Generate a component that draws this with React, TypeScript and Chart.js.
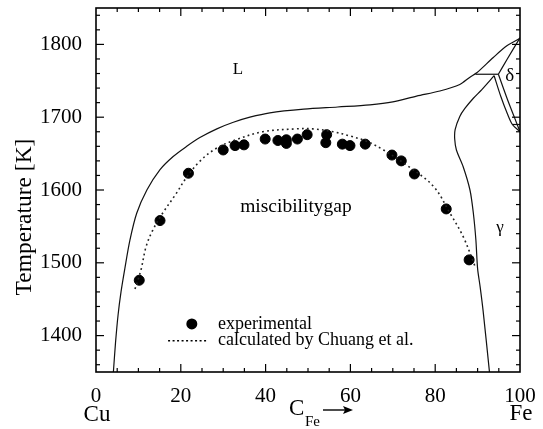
import React, { useEffect, useRef } from "react";
import { Chart, registerables } from "chart.js";

Chart.register(...registerables);

const FONT = "'Liberation Serif', 'Times New Roman', Times, serif";

// experimental points (C_Fe, T[K])
const expX = [10.2, 15.1, 21.8, 30.0, 32.8, 34.9, 39.9, 42.9, 44.9, 44.9, 47.5, 49.8, 54.4, 54.2, 58.1, 59.9, 63.5, 69.8, 72.0, 75.1, 82.6, 88.0];
const expT = [1476, 1558, 1623, 1655, 1661, 1662, 1670, 1668, 1669, 1664, 1670, 1676, 1676, 1665, 1663, 1661, 1663, 1648, 1640, 1622, 1574, 1504];

// calculated by Chuang et al. (dotted)
const calcX = [9.2, 10.6, 11.8, 13.4, 15.7, 18.9, 21.2, 24.4, 28.3, 33.0, 39.3, 47.2, 51.1, 56.0, 60.0, 63.8, 67.8, 73.3, 79.6, 83.5, 86.6, 89.4];
const calcT = [1464, 1490, 1522, 1545, 1568, 1595, 1616, 1639, 1657, 1669, 1680, 1684, 1684, 1680, 1674, 1667, 1655, 1634, 1605, 1568, 1536, 1495];

// liquidus
const liqX = [4.1, 4.6, 5.2, 5.9, 6.8, 8.0, 9.6, 12.0, 15.1, 18.2, 21.4, 24.5, 28.5, 32.4, 36.3, 41.0, 49.0, 57.0, 64.6, 70.0, 75.6, 81.1, 85.8, 88.2, 89.8, 93.7, 96.9, 99.6, 100];
const liqT = [1350, 1390, 1428, 1460, 1492, 1531, 1568, 1600, 1628, 1646, 1660, 1672, 1684, 1693, 1700, 1706, 1711, 1714, 1717, 1721, 1729, 1736, 1745, 1755, 1761, 1782, 1798, 1807, 1809];

// gamma boundary
const gamX = [93.9, 91.0, 89.0, 87.0, 85.8, 84.7, 84.6, 85.0, 86.6, 88.2, 89.0, 89.6, 90.0, 90.6, 91.3, 92.8];
const gamT = [1757, 1738, 1726, 1712, 1701, 1683, 1670, 1655, 1632, 1600, 1568, 1531, 1492, 1467, 1434, 1350];

// delta solidus
const delX = [94.9, 97.0, 100];
const delT = [1759, 1780, 1809];

// peritectic horizontal
const periX = [89.5, 94.9];
const periT = [1759, 1759];

// gamma/delta lines
const gd1X = [93.9, 95.5, 97.0, 98.2, 100];
const gd1T = [1757, 1728, 1705, 1690, 1680];
const gd2X = [94.9, 97.0, 98.8, 100];
const gd2T = [1759, 1725, 1698, 1680];
const gd3X = [98.2, 100];
const gd3T = [1690, 1690];

const xTickLabels = [0, 20, 40, 60, 80, 100];
const yTickLabels = [1400, 1500, 1600, 1700, 1800];
const xMinorStep = 5;
const yMinorStep = 20;

const pts = (xs: number[], ys: number[]) => xs.map((x, i) => ({ x, y: ys[i] }));

const solid = (xs: number[], ys: number[], tension = 0.3) => ({
  type: "line" as const,
  data: pts(xs, ys),
  borderColor: "#111",
  borderWidth: 1.2,
  pointRadius: 0,
  tension,
  fill: false,
});

const stepTicks = (min: number, max: number, step: number) => {
  const out: { value: number }[] = [];
  for (let v = Math.ceil(min / step) * step; v <= max; v += step) out.push({ value: v });
  return out;
};

const zeroPad = (s: any) => {
  s.paddingLeft = 0;
  s.paddingRight = 0;
  s.paddingTop = 0;
  s.paddingBottom = 0;
};

const decor = {
  id: "decor",
  afterDraw(chart: any) {
    const { ctx, chartArea: a, scales } = chart;
    const x = scales.x;
    const y = scales.y;
    ctx.save();
    ctx.strokeStyle = "#000";
    ctx.lineWidth = 1.6;
    ctx.strokeRect(a.left, a.top, a.right - a.left, a.bottom - a.top);
    ctx.lineWidth = 1.2;
    const line = (x1: number, y1: number, x2: number, y2: number) => {
      ctx.beginPath();
      ctx.moveTo(x1, y1);
      ctx.lineTo(x2, y2);
      ctx.stroke();
    };
    x.ticks.forEach((t: any) => {
      const v = t.value;
      if (v <= x.min || v >= x.max) return;
      const px = x.getPixelForValue(v);
      const len = xTickLabels.includes(v) ? 8 : 4;
      line(px, a.bottom, px, a.bottom - len);
      line(px, a.top, px, a.top + len);
    });
    y.ticks.forEach((t: any) => {
      const v = t.value;
      if (v <= y.min || v >= y.max) return;
      const py = y.getPixelForValue(v);
      const len = yTickLabels.includes(v) ? 8 : 4;
      line(a.left, py, a.left + len, py);
      line(a.right, py, a.right - len, py);
    });

    ctx.fillStyle = "#000";
    // y title
    ctx.save();
    ctx.translate(25, 217);
    ctx.rotate(-Math.PI / 2);
    ctx.font = `23.5px ${FONT}`;
    ctx.textAlign = "center";
    ctx.textBaseline = "middle";
    ctx.fillText("Temperature [K]", 0, 0);
    ctx.restore();

    // Cu / Fe
    ctx.font = `23px ${FONT}`;
    ctx.textAlign = "center";
    ctx.textBaseline = "middle";
    ctx.fillText("Cu", x.getPixelForValue(0) + 1, 415);
    ctx.fillText("Fe", x.getPixelForValue(100) + 1, 414);

    // C_Fe ->
    ctx.textAlign = "left";
    ctx.font = `23px ${FONT}`;
    ctx.fillText("C", 289, 409);
    ctx.font = `15px ${FONT}`;
    ctx.fillText("Fe", 305, 422);
    ctx.lineWidth = 1.4;
    line(323, 410, 350, 410);
    ctx.beginPath();
    ctx.moveTo(353, 410);
    ctx.lineTo(343, 406);
    ctx.lineTo(345, 410);
    ctx.lineTo(343, 414);
    ctx.closePath();
    ctx.fill();

    // region labels
    ctx.textAlign = "center";
    ctx.font = `17px ${FONT}`;
    ctx.fillText("L", x.getPixelForValue(33.5), y.getPixelForValue(1765));
    ctx.font = `17px ${FONT}`;
    ctx.fillText("\u03b3", x.getPixelForValue(95.3), y.getPixelForValue(1548));
    ctx.font = `19px ${FONT}`;
    ctx.fillText("\u03b4", x.getPixelForValue(97.6), y.getPixelForValue(1756));
    ctx.textAlign = "left";
    ctx.textBaseline = "alphabetic";
    ctx.font = `19.5px ${FONT}`;
    ctx.fillText("miscibilitygap", x.getPixelForValue(34), y.getPixelForValue(1570));

    // legend
    ctx.textBaseline = "middle";
    ctx.font = `18px ${FONT}`;
    const r1 = y.getPixelForValue(1416);
    const r2 = y.getPixelForValue(1393);
    ctx.beginPath();
    ctx.arc(x.getPixelForValue(22.6), r1, 5.5, 0, Math.PI * 2);
    ctx.fill();
    ctx.fillText("experimental", x.getPixelForValue(28.8), r1);
    ctx.setLineDash([2, 2.5]);
    ctx.lineWidth = 1.5;
    line(x.getPixelForValue(17), r2, x.getPixelForValue(26), r2);
    ctx.setLineDash([]);
    ctx.fillText("calculated by Chuang et al.", x.getPixelForValue(28.8), r2);
    ctx.restore();
  },
};

export default function App() {
  const ref = useRef<HTMLCanvasElement | null>(null);
  useEffect(() => {
    if (!ref.current) return;
    const chart = new Chart(ref.current, {
      type: "line",
      data: {
        datasets: [
          solid(liqX, liqT),
          solid(gamX, gamT),
          solid(delX, delT, 0.2),
          solid(periX, periT, 0),
          solid(gd1X, gd1T),
          solid(gd2X, gd2T),
          solid(gd3X, gd3T, 0),
          {
            type: "line",
            data: pts(calcX, calcT),
            borderColor: "#222",
            borderWidth: 1.6,
            borderDash: [1.8, 3.2],
            pointRadius: 0,
            tension: 0.35,
            fill: false,
          },
          {
            type: "scatter",
            data: pts(expX, expT),
            backgroundColor: "#000",
            borderColor: "#000",
            pointRadius: 5,
            showLine: false,
          },
        ] as any,
      },
      options: {
        responsive: false,
        animation: false,
        devicePixelRatio: 1,
        layout: { padding: { left: 0, top: 8, right: 23, bottom: 0 } },
        plugins: { legend: { display: false }, tooltip: { enabled: false } },
        scales: {
          x: {
            type: "linear",
            min: 0,
            max: 100,
            afterBuildTicks: (s: any) => {
              s.ticks = stepTicks(s.min, s.max, xMinorStep);
            },
            afterFit: (s: any) => {
              s.height = 57;
              zeroPad(s);
            },
            grid: { display: false, drawTicks: false },
            border: { display: false },
            ticks: {
              autoSkip: false,
              maxRotation: 0,
              padding: 12,
              color: "#000",
              font: { family: FONT, size: 21 },
              callback: (v: any) => (xTickLabels.includes(Number(v)) ? String(v) : ""),
            },
          },
          y: {
            type: "linear",
            min: 1350,
            max: 1850,
            afterBuildTicks: (s: any) => {
              s.ticks = stepTicks(s.min, s.max, yMinorStep);
            },
            afterFit: (s: any) => {
              s.width = 96;
              zeroPad(s);
            },
            grid: { display: false, drawTicks: false },
            border: { display: false },
            ticks: {
              autoSkip: false,
              padding: 14,
              color: "#000",
              font: { family: FONT, size: 21 },
              callback: (v: any) => (yTickLabels.includes(Number(v)) ? String(v) : ""),
            },
          },
        },
      },
      plugins: [decor],
    });
    return () => chart.destroy();
  }, []);
  return (
    <div style={{ position: "fixed", left: 0, top: 0, width: 543, height: 429, background: "#fff" }}>
      <canvas ref={ref} width={543} height={429} />
    </div>
  );
}
